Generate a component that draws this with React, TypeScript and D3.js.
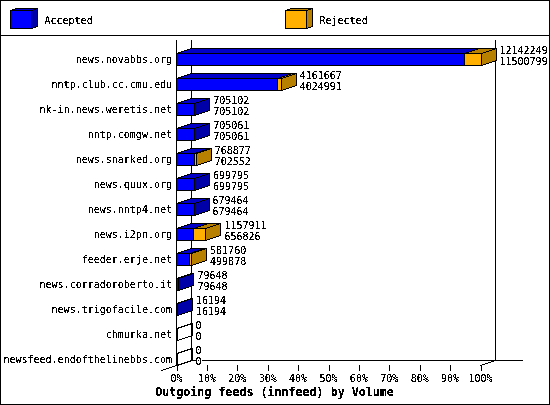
import React from 'react';
import * as d3 from 'd3';

const feeds = [
  'news.novabbs.org',
  'nntp.club.cc.cmu.edu',
  'nk-in.news.weretis.net',
  'nntp.comgw.net',
  'news.snarked.org',
  'news.quux.org',
  'news.nntp4.net',
  'news.i2pn.org',
  'feeder.erje.net',
  'news.corradoroberto.it',
  'news.trigofacile.com',
  'chmurka.net',
  'newsfeed.endofthelinebbs.com',
];
const offered = [12142249, 4161667, 705102, 705061, 768877, 699795, 679464, 1157911, 581760, 79648, 16194, 0, 0];
const accepted = [11500799, 4024991, 705102, 705061, 702552, 699795, 679464, 656826, 499878, 79648, 16194, 0, 0];
const percentTicks = [0, 10, 20, 30, 40, 50, 60, 70, 80, 90, 100];

const WIDTH = 550;
const HEIGHT = 405;
const DX = 15;
const DY = 5;
const BAR_H = 12;
const FONT = '"DejaVu Sans Mono", monospace';

const x = d3.scaleLinear().domain([0, d3.max(offered) as number]).range([176.5, 480.5]);
const pct = d3.scaleLinear().domain([0, 100]).range([176.5, 480.5]);
const y = d3.scaleBand<string>().domain(feeds).range([46.5, 371.5]);

const BLUE = { front: '#0000ff', side: '#0000a8', top: '#0000c8' };
const ORANGE = { front: '#ffb000', side: '#b88000', top: '#b88000' };
const EMPTY = { front: 'none', side: 'none', top: 'none' };

function Box({ x0, x1, top, h, dx, dy, c }: any) {
  const face = (pts: number[][], fill: string) => (
    <path d={d3.line()(pts as [number, number][]) + 'Z'} fill={fill} stroke="#000" strokeWidth={1} />
  );
  return (
    <g>
      {face([[x0, top], [x0 + dx, top - dy], [x1 + dx, top - dy], [x1, top]], c.top)}
      {face([[x1, top], [x1 + dx, top - dy], [x1 + dx, top - dy + h], [x1, top + h]], c.side)}
      <rect x={x0} y={top} width={x1 - x0} height={h} fill={c.front} stroke="#000" />
    </g>
  );
}

export default function App() {
  return (
    <svg
      width={WIDTH}
      height={HEIGHT}
      style={{ position: 'absolute', left: 0, top: 0, background: '#fff' }}
      fontFamily={FONT}
      fontSize={10}
      shapeRendering="crispEdges"
    >
      {/* hard threshold on alpha so the text comes out jagged like the original */}
      <defs>
        <filter id="jag" x="0" y="0" width={WIDTH} height={HEIGHT} filterUnits="userSpaceOnUse">
          <feComponentTransfer>
            <feFuncA type="discrete" tableValues="0 0 1 1 1" />
          </feComponentTransfer>
        </filter>
      </defs>
      <rect x={0.5} y={0.5} width={WIDTH - 1} height={HEIGHT - 1} fill="none" stroke="#000" />
      <line x1={0} x2={WIDTH} y1={35.5} y2={35.5} stroke="#000" />

      <Box x0={10.5} x1={31.5} top={10.5} h={18} dx={6} dy={2} c={BLUE} />
      <Box x0={285.5} x1={306.5} top={10.5} h={18} dx={6} dy={2} c={ORANGE} />

      <g stroke="#000">
        <line x1={176.5} x2={176.5} y1={40} y2={365.5} />
        <line x1={191.5} x2={191.5} y1={40} y2={360.5} />
        <line x1={495.5} x2={495.5} y1={40} y2={360.5} />
        <line x1={191.5} x2={522.5} y1={360.5} y2={360.5} />
        <line x1={161.5} x2={191.5} y1={370.5} y2={360.5} />
        <line x1={480.5} x2={495.5} y1={365.5} y2={360.5} />
        {percentTicks.map((t) => (
          <line key={t} x1={Math.round(pct(t)) + 0.5} x2={Math.round(pct(t)) + 0.5} y1={365} y2={371} />
        ))}
      </g>

      {feeds.map((f, i) => {
        const top = Math.round(y(f)! + y.bandwidth() / 2 - BAR_H / 2) + 0.5;
        const xa = Math.round(x(accepted[i])) + 0.5;
        const xo = Math.round(x(offered[i])) + 0.5;
        return (
          <g key={f}>
            <Box x0={176.5} x1={xa} top={top} h={BAR_H} dx={DX} dy={DY} c={offered[i] > 0 ? BLUE : EMPTY} />
            {offered[i] > accepted[i] && (
              <Box x0={xa} x1={xo} top={top} h={BAR_H} dx={DX} dy={DY} c={ORANGE} />
            )}
          </g>
        );
      })}

      {feeds.map((f, i) => {
        const cy = y(f)! + y.bandwidth() / 2;
        const tx = x(offered[i]) + DX + 4;
        return (
          <rect key={f} x={tx} y={cy - 3.5} width={String(accepted[i]).length * 6} height={10} fill="#fff" />
        );
      })}

      <g filter="url(#jag)">
        <text x={44.5} y={23.5}>Accepted</text>
        <text x={319.5} y={23.5}>Rejected</text>
        {feeds.map((f, i) => {
          const cy = y(f)! + y.bandwidth() / 2;
          const tx = x(offered[i]) + DX + 4;
          return (
            <g key={f}>
              <text x={172} y={cy + 3.5} textAnchor="end">{f}</text>
              <text x={tx} y={cy - 5.5}>{offered[i]}</text>
              <text x={tx} y={cy + 5.5}>{accepted[i]}</text>
            </g>
          );
        })}
        {percentTicks.map((t) => (
          <text key={t} x={pct(t)} y={382} textAnchor="middle">{t}%</text>
        ))}
        <text x={274.5} y={396} textAnchor="middle" fontWeight="bold" fontSize={11.67}>
          Outgoing feeds (innfeed) by Volume
        </text>
      </g>
    </svg>
  );
}
